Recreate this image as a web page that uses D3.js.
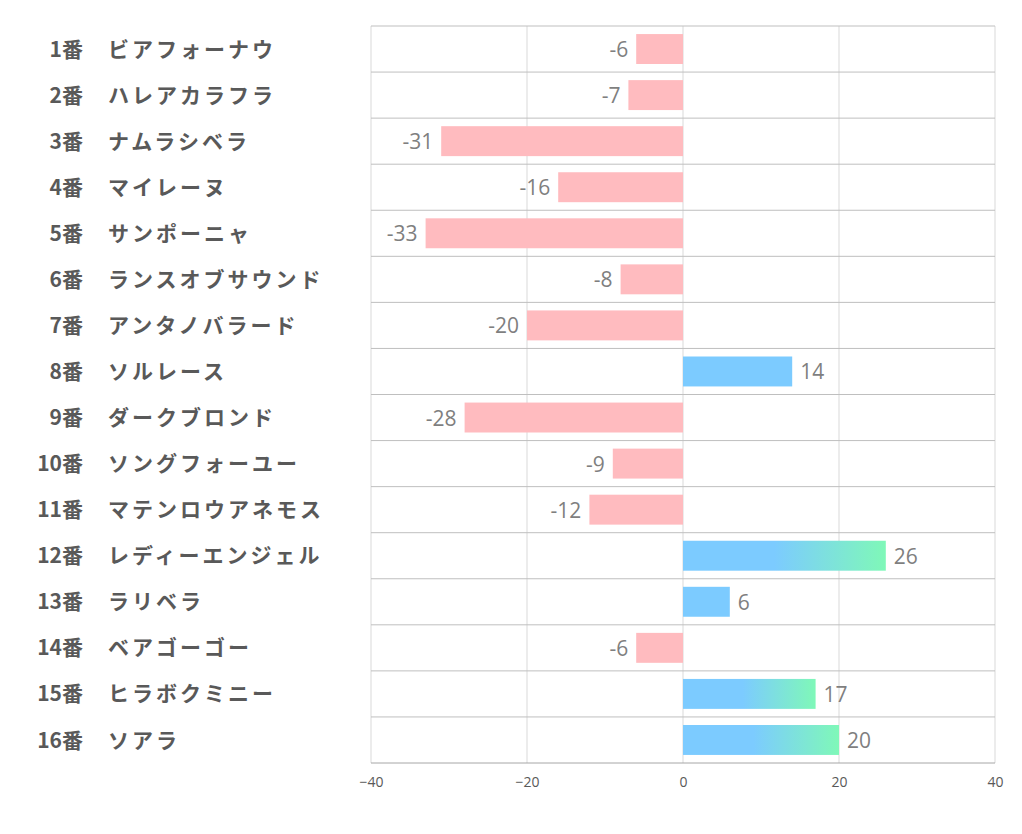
<!DOCTYPE html>
<html><head><meta charset="utf-8">
<script src="https://cdn.jsdelivr.net/npm/d3@7/dist/d3.min.js"></script>
<style>body{margin:0;background:#fff;}svg{display:block;}</style>
</head><body>
<svg id="c" width="1022" height="834"></svg>
<script>
const numbers = ["1番","2番","3番","4番","5番","6番","7番","8番","9番","10番","11番","12番","13番","14番","15番","16番"];
const names = ["ビアフォーナウ","ハレアカラフラ","ナムラシベラ","マイレーヌ","サンポーニャ","ランスオブサウンド","アンタノバラード","ソルレース","ダークブロンド","ソングフォーユー","マテンロウアネモス","レディーエンジェル","ラリベラ","ベアゴーゴー","ヒラボクミニー","ソアラ"];
const values = [-6,-7,-31,-16,-33,-8,-20,14,-28,-9,-12,26,6,-6,17,20];
const ticks = [-40,-20,0,20,40];

const svg = d3.select("#c");
const L = 371, R = 995, T = 26, B = 763;
const x = d3.scaleLinear().domain([-40,40]).range([L,R]);
const y = d3.scaleBand().domain(d3.range(values.length)).range([T,B]).paddingInner(0.35).paddingOuter(0.175);
const step = (B-T)/values.length;

const defs = svg.append("defs");
const grad = defs.append("linearGradient").attr("id","g").attr("x1","0%").attr("x2","100%");
grad.append("stop").attr("offset","45%").attr("stop-color","#7ccbff");
grad.append("stop").attr("offset","100%").attr("stop-color","#7ff8b8");

// grid
const grid = svg.append("g");
ticks.forEach(t=>{
  grid.append("line").attr("x1",x(t)).attr("x2",x(t)).attr("y1",T).attr("y2",B)
    .attr("stroke","#d9d9d9").attr("stroke-width",1);
});
for(let i=0;i<values.length;i++){
  grid.append("line").attr("x1",L).attr("x2",R).attr("y1",T+i*step).attr("y2",T+i*step)
    .attr("stroke","#bfbfbf").attr("stroke-width",1);
}

// bars
svg.append("g").selectAll("rect").data(values).join("rect")
  .attr("x",d=>x(Math.min(0,d)))
  .attr("width",d=>Math.abs(x(d)-x(0)))
  .attr("y",(d,i)=>y(i))
  .attr("height",y.bandwidth())
  .attr("fill",d=>d<0?"#ffbbbf":(d>=15?"url(#g)":"#7ccbff"));

// axis line
svg.append("line").attr("x1",L).attr("x2",R).attr("y1",B).attr("y2",B).attr("stroke","#a6a6a6").attr("stroke-width",1);

// value labels
svg.append("g").selectAll("text").data(values).join("text")
  .attr("x",d=>d<0?x(d)-8:x(d)+8)
  .attr("y",(d,i)=>y(i)+y.bandwidth()/2)
  .attr("dy","0.38em")
  .attr("text-anchor",d=>d<0?"end":"start")
  .attr("font-family","'Open Sans','Noto Sans',sans-serif")
  .attr("font-size",21).attr("fill","#7f7f7f")
  .text(d=>d);

// tick labels
const ax = d3.axisBottom(x).tickValues(ticks).tickSize(0).tickPadding(14);
const axg = svg.append("g").attr("transform",`translate(0,${B})`).call(ax);
axg.select(".domain").remove();
axg.selectAll("text").attr("font-family","'Open Sans','Noto Sans',sans-serif").attr("font-size",14).attr("fill","#595959");

// category labels
const lab = svg.append("g").attr("font-family","'Noto Sans CJK JP',sans-serif").attr("font-weight","bold").attr("font-size",21).attr("fill","#595959");
lab.selectAll("text.n").data(numbers).join("text").attr("class","n")
  .attr("x",83).attr("y",(d,i)=>y(i)+y.bandwidth()/2).attr("dy","0.36em").attr("text-anchor","end").text(d=>d);
lab.selectAll("text.m").data(names).join("text").attr("class","m")
  .attr("x",108).attr("y",(d,i)=>y(i)+y.bandwidth()/2).attr("dy","0.36em").attr("text-anchor","start")
  .attr("letter-spacing",3).text(d=>d);
</script>
</body></html>
